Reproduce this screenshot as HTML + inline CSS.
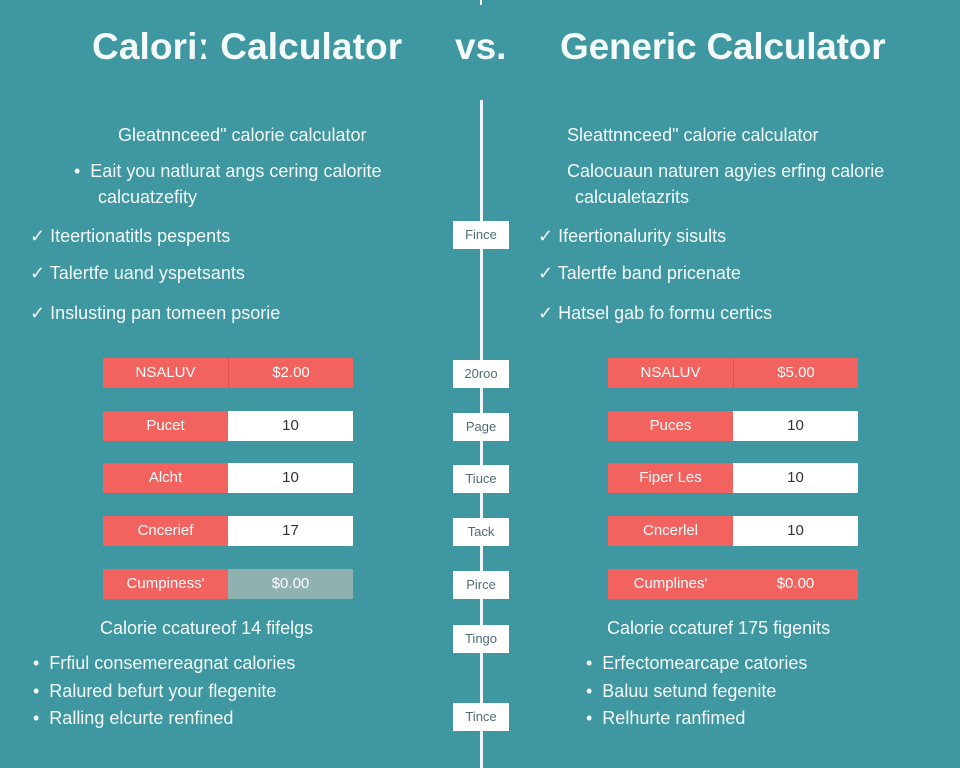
<!DOCTYPE html>
<html><head><meta charset="utf-8"><style>
*{margin:0;padding:0;box-sizing:border-box}
body{width:960px;height:768px;overflow:hidden;background:#3f97a1;font-family:"Liberation Sans",sans-serif;color:#f4fbfb;position:relative}
.a{position:absolute;white-space:nowrap}
.t{font-size:37px;font-weight:bold;top:26px;letter-spacing:0px}
.s{font-size:18px}
.line{position:absolute;left:480px;width:3px;top:100px;height:668px;background:#f2f7f7}
.cb{position:absolute;left:453px;width:56px;height:28px;background:#fff;color:#4d6f73;font-size:13px;text-align:center;line-height:28px}
.row{position:absolute;width:250px;height:30px;display:flex;font-size:15px}
.row div{width:125px;text-align:center;line-height:30px}
.l{background:#f2625f;color:#fff}
.v{background:#fff;color:#333}
.vr{background:#f2625f;color:#fff}
.vg{background:#8fb1b0;color:#fff}
</style></head><body>
<div class="a" style="left:480px;top:0;width:2px;height:5px;background:#fff"></div>
<div class="a t" style="left:92px;letter-spacing:0.1px">Caloriː Calculator</div>
<div class="a t" style="left:455px">vs.</div>
<div class="a t" style="left:560px;letter-spacing:-0.2px">Generic Calculator</div>
<div class="line"></div>

<div class="a s" style="left:118px;top:125px">Gleatnnceed" calorie calculator</div>
<div class="a s" style="left:74px;top:161px">•&nbsp;&nbsp;Eait you natlurat angs cering calorite</div>
<div class="a s" style="left:98px;top:187px">calcuatzefity</div>
<div class="a s" style="left:30px;top:226px">✓ Iteertionatitls pespents</div>
<div class="a s" style="left:30px;top:263px">✓ Talertfe uand yspetsants</div>
<div class="a s" style="left:30px;top:303px">✓ Inslusting pan tomeen psorie</div>

<div class="a s" style="left:567px;top:125px">Sleattnnceed" calorie calculator</div>
<div class="a s" style="left:567px;top:161px">Calocuaun naturen agyies erfing calorie</div>
<div class="a s" style="left:575px;top:187px">calcualetazrits</div>
<div class="a s" style="left:538px;top:226px">✓ Ifeertionalurity sisults</div>
<div class="a s" style="left:538px;top:263px">✓ Talertfe band pricenate</div>
<div class="a s" style="left:538px;top:303px">✓ Hatsel gab fo formu certics</div>

<div class="row" style="left:103px;top:358px"><div class="l">NSALUV</div><div class="vr" style="border-left:1px solid #d9524f">$2.00</div></div>
<div class="row" style="left:103px;top:411px"><div class="l">Pucet</div><div class="v">10</div></div>
<div class="row" style="left:103px;top:463px"><div class="l">Alcht</div><div class="v">10</div></div>
<div class="row" style="left:103px;top:516px"><div class="l">Cncerief</div><div class="v">17</div></div>
<div class="row" style="left:103px;top:569px"><div class="l">Cumpiness'</div><div class="vg">$0.00</div></div>

<div class="row" style="left:608px;top:358px"><div class="l">NSALUV</div><div class="vr" style="border-left:1px solid #d9524f">$5.00</div></div>
<div class="row" style="left:608px;top:411px"><div class="l">Puces</div><div class="v">10</div></div>
<div class="row" style="left:608px;top:463px"><div class="l">Fiper Les</div><div class="v">10</div></div>
<div class="row" style="left:608px;top:516px"><div class="l">Cncerlel</div><div class="v">10</div></div>
<div class="row" style="left:608px;top:569px"><div class="l">Cumplines'</div><div class="vr">$0.00</div></div>

<div class="cb" style="top:221px">Fince</div>
<div class="cb" style="top:360px">20roo</div>
<div class="cb" style="top:413px">Page</div>
<div class="cb" style="top:465px">Tiuce</div>
<div class="cb" style="top:518px">Tack</div>
<div class="cb" style="top:571px">Pirce</div>
<div class="cb" style="top:625px">Tingo</div>
<div class="cb" style="top:703px">Tince</div>

<div class="a s" style="left:100px;top:618px">Calorie ccatureof 14 fifelgs</div>
<div class="a s" style="left:33px;top:653px">•&nbsp;&nbsp;Frfiul consemereagnat calories</div>
<div class="a s" style="left:33px;top:681px">•&nbsp;&nbsp;Ralured befurt your flegenite</div>
<div class="a s" style="left:33px;top:708px">•&nbsp;&nbsp;Ralling elcurte renfined</div>

<div class="a s" style="left:607px;top:618px">Calorie ccaturef 175 figenits</div>
<div class="a s" style="left:586px;top:653px">•&nbsp;&nbsp;Erfectomearcape catories</div>
<div class="a s" style="left:586px;top:681px">•&nbsp;&nbsp;Baluu setund fegenite</div>
<div class="a s" style="left:586px;top:708px">•&nbsp;&nbsp;Relhurte ranfimed</div>
</body></html>
